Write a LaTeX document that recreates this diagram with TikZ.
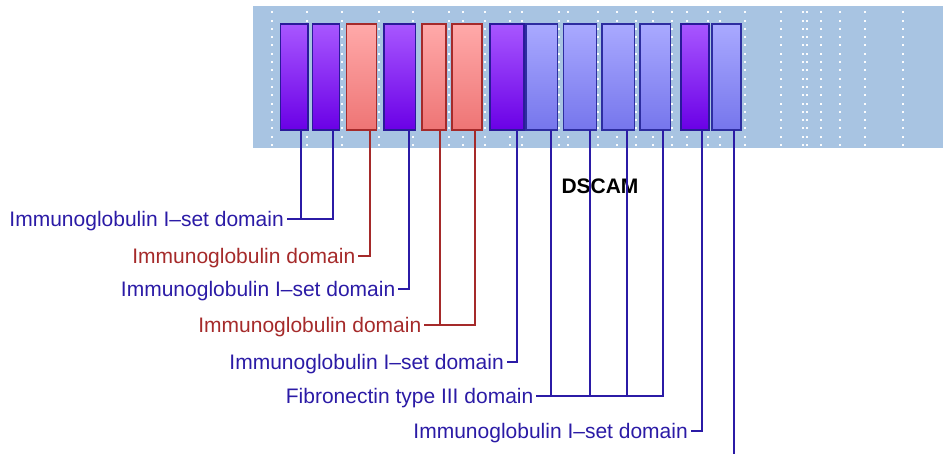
\documentclass[tikz,border=0pt]{standalone}
\usepackage{fontspec}
\setsansfont{Liberation Sans}
\usepackage{tikz}
\usetikzlibrary{positioning}
\definecolor{bgblue}{HTML}{A8C4E2}
\definecolor{isettop}{HTML}{A857FF}
\definecolor{isetbot}{HTML}{6A00E6}
\definecolor{isetline}{HTML}{2A1A9A}
\definecolor{igtop}{HTML}{FFA9A9}
\definecolor{igbot}{HTML}{EE7575}
\definecolor{igline}{HTML}{A52A2A}
\definecolor{fntop}{HTML}{A9A9FF}
\definecolor{fnbot}{HTML}{7676EC}
\definecolor{fnline}{HTML}{2D2DA0}
\definecolor{labelblue}{HTML}{2B1BA6}

\begin{document}
\begin{tikzpicture}[
  x=1pt, y=-1pt,
  font=\sffamily\fontsize{21}{25}\selectfont,
  domainbox/.style={
    minimum height=106pt,
    inner sep=0pt,
    outer sep=0pt,
    line width=1.5pt,
    anchor=north west
  },
  isetdomain/.style={
    domainbox,
    draw=isetline,
    top color=isettop,
    bottom color=isetbot
  },
  igdomain/.style={
    domainbox,
    draw=igline,
    top color=igtop,
    bottom color=igbot
  },
  fndomain/.style={
    domainbox,
    draw=fnline,
    top color=fntop,
    bottom color=fnbot
  },
  bluelabel/.style={
    text=labelblue,
    anchor=east,
    inner sep=2.5pt,
    text height=15pt,
    text depth=0pt
  },
  redlabel/.style={
    bluelabel,
    text=igline
  },
  blueline/.style={
    line width=2pt,
    draw=labelblue
  },
  redline/.style={
    line width=2pt,
    draw=igline
  }
]
  \useasboundingbox (0,0) rectangle (943,454);

  % Membrane band with dotted grid
  \fill[bgblue] (253,6) rectangle (943,148);
  \foreach \dx in {272,306.7,341.7,379,413,448.7,463,485,510,521.7,559,568,598,617,636,653,672,687,708,720,745,780.7,802.7,806.7,821,840,865,902.7}
    \foreach \dy in {0,...,16}
      \fill[white!95!bgblue] (\dx-1,12.3+8.3*\dy-1) rectangle ++(2,2);

  % --- Domains, left to right ---
  \node[isetdomain, minimum width=27.3pt] (b1) at (280.7,24) {};
  \node[isetdomain, minimum width=27pt, right=4.4pt of b1] (b2) {};
  \node[igdomain, minimum width=30.2pt, right=7.1pt of b2] (b3) {};
  \node[isetdomain, minimum width=31.6pt, right=7.4pt of b3] (b4) {};
  \node[igdomain, minimum width=24.3pt, right=6.1pt of b4] (b5) {};
  \node[igdomain, minimum width=30pt, right=6pt of b5] (b6) {};
  \node[isetdomain, minimum width=34.3pt, right=7.7pt of b6] (b7) {};
  \node[fndomain, minimum width=31.6pt, right=2pt of b7] (b8) {};
  \node[fndomain, minimum width=33.2pt, right=5.8pt of b8] (b9) {};
  \node[fndomain, minimum width=32.3pt, right=5.4pt of b9] (b10) {};
  \node[fndomain, minimum width=30.6pt, right=5.4pt of b10] (b11) {};
  \node[isetdomain, minimum width=28pt, right=10.4pt of b11] (b12) {};
  \node[fndomain, minimum width=28.6pt, right=3.4pt of b12] (b13) {};

  % Protein name
  \node[font=\sffamily\bfseries\fontsize{21}{25}\selectfont, text height=15pt, text depth=0pt, inner sep=0pt] (title) at (600,186) {DSCAM};

  % --- Labels ---
  \node[bluelabel] (l1) at (286.5,219.3) {Immunoglobulin I–set domain};
  \node[redlabel] (l2) at (358,256) {Immunoglobulin domain};
  \node[bluelabel] (l3) at (398,289.3) {Immunoglobulin I–set domain};
  \node[redlabel] (l4) at (424,325) {Immunoglobulin domain};
  \node[bluelabel] (l5) at (506.5,361.7) {Immunoglobulin I–set domain};
  \node[bluelabel] (l6) at (536,396) {Fibronectin type III domain};
  \node[bluelabel] (l7) at (690.5,430.7) {Immunoglobulin I–set domain};
  \coordinate (cut) at (734,454);

  % Connecting lines
  \draw[blueline] ([xshift=7pt]b1.south) |- (l1.east);
  \draw[blueline] ([xshift=6.8pt]b2.south) |- (l1.east);
  \draw[redline] ([xshift=8.5pt]b3.south) |- (l2.east);
  \draw[blueline] ([xshift=9.5pt]b4.south) |- (l3.east);
  \draw[redline] ([xshift=6pt]b5.south) |- (l4.east);
  \draw[redline] ([xshift=8.3pt]b6.south) |- (l4.east);
  \draw[blueline] ([xshift=10.5pt]b7.south) |- (l5.east);
  \draw[blueline] ([xshift=8.9pt]b8.south) |- (l6.east);
  \draw[blueline] ([xshift=9.7pt]b9.south) |- (l6.east);
  \draw[blueline] ([xshift=9.1pt]b10.south) |- (l6.east);
  \draw[blueline] ([xshift=8pt]b11.south) |- (l6.east);
  \draw[blueline] ([xshift=7pt]b12.south) |- (l7.east);
  \draw[blueline] ([xshift=7.7pt]b13.south) -- ([xshift=7.7pt]b13.south |- cut);

\end{tikzpicture}
\end{document}
